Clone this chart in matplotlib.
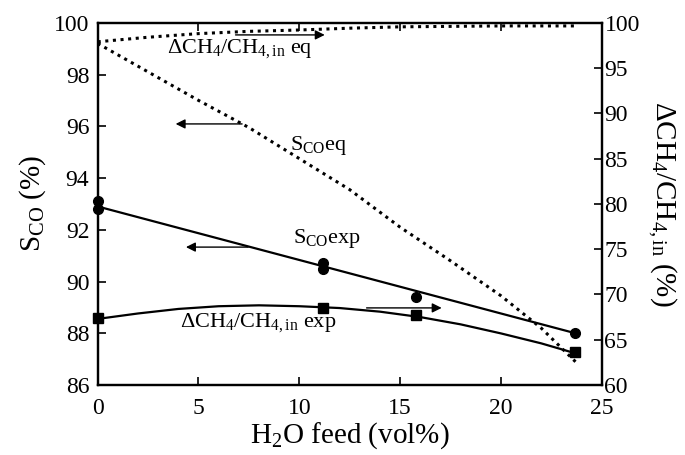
import numpy as np
import matplotlib
matplotlib.use('Agg')
import matplotlib.pyplot as plt

plt.rcParams['font.family'] = ['Liberation Serif', 'DejaVu Serif']
plt.rcParams['mathtext.fontset'] = 'custom'
plt.rcParams['mathtext.rm'] = 'Liberation Serif'
plt.rcParams['mathtext.it'] = 'Liberation Serif:italic'
plt.rcParams['mathtext.default'] = 'rm'

# 측정값 (S_CO, 왼쪽 축)
sco_x = [0, 0, 11.2, 11.2, 15.8, 23.7]
sco_y = [93.1, 92.8, 90.7, 90.5, 89.4, 88.0]
sco_fit_x = [0, 23.7]
sco_fit_y = [92.9, 88.0]

# 측정값 (CH4 전환율, 오른쪽 축)
conv_x = [0, 11.2, 15.8, 23.7]
conv_y = [67.4, 68.5, 67.7, 63.6]
conv_fit_x = [0, 2, 4, 6, 8, 10, 12, 14, 16, 18, 20, 22, 23.7]
conv_fit_y = [67.3, 67.9, 68.4, 68.7, 68.8, 68.7, 68.5, 68.1, 67.5, 66.7, 65.7, 64.6, 63.5]

# 평형값
sco_eq_x = [0, 2.5, 5, 7.5, 10, 12.5, 15, 17.5, 20, 22, 23.7]
sco_eq_y = [99.2, 98.1, 97.0, 95.95, 94.75, 93.55, 92.1, 90.8, 89.45, 88.2, 86.9]
conv_eq_x = [0, 2.5, 5, 7.5, 10, 12.5, 15, 17.5, 20, 23.7]
conv_eq_y = [97.9, 98.4, 98.8, 99.05, 99.2, 99.4, 99.55, 99.6, 99.65, 99.65]

fig = plt.figure(figsize=(6.85, 4.55), dpi=100)
ax = fig.add_axes([0.1426, 0.1538, 0.7358, 0.7962])
ax2 = ax.twinx()

ax.plot(sco_fit_x, sco_fit_y, color='black', lw=1.6)
ax.plot(sco_x, sco_y, 'o', color='black', ms=7, clip_on=False)
ax.plot(sco_eq_x, sco_eq_y, color='black', lw=2.2, linestyle=(0, (1, 1.5)))

ax2.plot(conv_fit_x, conv_fit_y, color='black', lw=1.6)
ax2.plot(conv_x, conv_y, 's', color='black', ms=6.5, clip_on=False)
ax2.plot(conv_eq_x, conv_eq_y, color='black', lw=2.2, linestyle=(0, (1, 1.5)))

ax.set_xlim(0, 25)
ax.set_ylim(86, 100)
ax2.set_ylim(60, 100)
ax.set_xticks(range(0, 26, 5))
ax.set_yticks(range(86, 101, 2))
ax2.set_yticks(range(60, 101, 5))

for a in (ax, ax2):
    for s in a.spines.values():
        s.set_linewidth(1.6)
ax.tick_params(axis='x', direction='in', length=6, width=1.2, labelsize=17, top=True, pad=9)
ax.tick_params(axis='y', direction='in', length=6, width=1.2, labelsize=17, pad=6)
ax2.tick_params(direction='in', length=6, width=1.2, labelsize=17, pad=2)

ax.set_xlabel(r'H$_2$O feed (vol%)', fontsize=21, labelpad=1)
ax.set_ylabel(r'S$_{\mathrm{CO}}$ (%)', fontsize=21, labelpad=4)
ax2.set_ylabel(r'$\Delta$CH$_4$/CH$_{4,\mathrm{in}}$ (%)', fontsize=21,
               rotation=-90, labelpad=28)

# 라벨과 화살표
fs = 16
arrow = dict(arrowstyle='-|>', color='black', lw=1, mutation_scale=14)
ax.text(3.44, 99.02, r'$\Delta$CH$_4$/CH$_{4,\mathrm{in}}$ eq', fontsize=fs, va='center')
ax.annotate('', xy=(11.4, 99.53), xytext=(6.7, 99.53), arrowprops=arrow)
ax.text(9.54, 95.25, r'S$_{\mathrm{CO}}$eq', fontsize=fs, va='center')
ax.annotate('', xy=(3.73, 96.09), xytext=(7.3, 96.09), arrowprops=arrow)
ax.text(9.69, 91.65, r'S$_{\mathrm{CO}}$exp', fontsize=fs, va='center')
ax.annotate('', xy=(4.24, 91.33), xytext=(7.6, 91.33), arrowprops=arrow)
ax.text(4.08, 88.4, r'$\Delta$CH$_4$/CH$_{4,\mathrm{in}}$ exp', fontsize=fs, va='center')
ax.annotate('', xy=(17.2, 88.98), xytext=(13.2, 88.98), arrowprops=arrow)

fig.savefig('out.png', dpi=100)
